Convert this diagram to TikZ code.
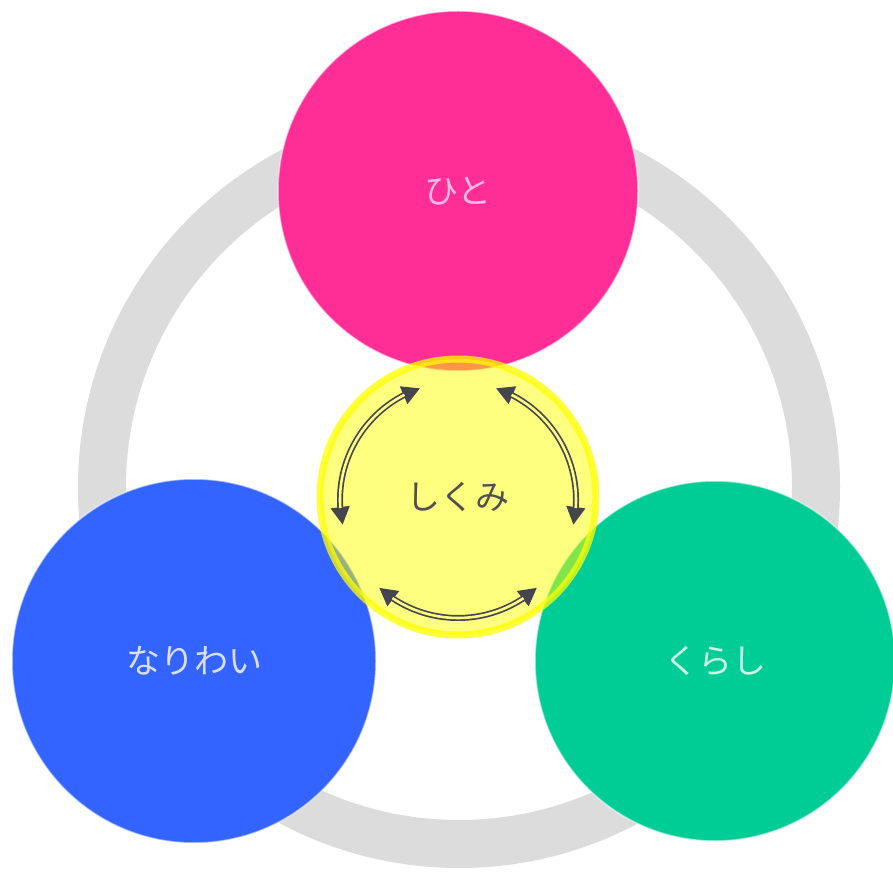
\documentclass[tikz,border=0pt]{standalone}
\usepackage{fontspec}
\newfontfamily\jp{Noto Sans CJK JP}
\usetikzlibrary{arrows.meta,bending}
\definecolor{pinkc}{HTML}{FF2D96}
\definecolor{bluec}{HTML}{3464FF}
\definecolor{greenc}{HTML}{00CC96}
\definecolor{ringgray}{HTML}{DCDCDC}
\definecolor{yel}{HTML}{FFFF00}
\definecolor{arrowc}{HTML}{45454F}
\definecolor{hitotext}{HTML}{FFB8E6}
\definecolor{naritext}{HTML}{D9E0FF}
\definecolor{kuratext}{HTML}{CCF5E6}
\definecolor{shikutext}{HTML}{505050}
\begin{document}
\begin{tikzpicture}[x=1pt,y=1pt,
  disk/.style={circle, inner sep=0pt, draw=white, draw opacity=0.55, line width=1.5pt,
    font=\jp\fontsize{34}{34}\selectfont},
  cycouter/.style={draw=arrowc, line width=6pt,
    {Triangle[length=18pt,width=18pt]}-{Triangle[length=18pt,width=18pt]}},
  cycinner/.style={draw=yel!50!white, line width=2.6pt}]
\useasboundingbox (0,0) rectangle (893,876);
\fill[white] (0,0) rectangle (893,876);
\coordinate (rc) at (459,389);
\draw[ringgray, line width=48pt] (rc) circle[radius=357];
\node[disk, minimum size=360pt, fill=pinkc, text=hitotext] (hito) at (458,685) {ひと};
\node[disk, minimum size=364pt, fill=bluec, text=naritext] (nari) at (194,215) {なりわい};
\node[disk, minimum size=360pt, fill=greenc, text=kuratext] (kura) at (715,215) {くらし};
\node[circle, inner sep=0pt, minimum size=276pt, fill=yel, fill opacity=0.5,
  draw=yel, draw opacity=0.75, line width=7pt, text opacity=1, text=shikutext,
  font=\jp\fontsize{34}{34}\selectfont] (shiku) at (458,379) {しくみ};
\coordinate (ac) at (458,376);
% left arc
\draw[cycouter] (ac) ++(108.7:118) arc[start angle=108.7, end angle=192.2, radius=118];
\draw[cycinner] (ac) ++(117:118) arc[start angle=117, end angle=183.9, radius=118];
% right arc
\draw[cycouter] (ac) ++(71.3:118) arc[start angle=71.3, end angle=-12.2, radius=118];
\draw[cycinner] (ac) ++(63:118) arc[start angle=63, end angle=-3.9, radius=118];
% bottom arc
\draw[cycouter] (ac) ++(228:118) arc[start angle=228, end angle=312, radius=118];
\draw[cycinner] (ac) ++(236.3:118) arc[start angle=236.3, end angle=303.7, radius=118];
\end{tikzpicture}
\end{document}
